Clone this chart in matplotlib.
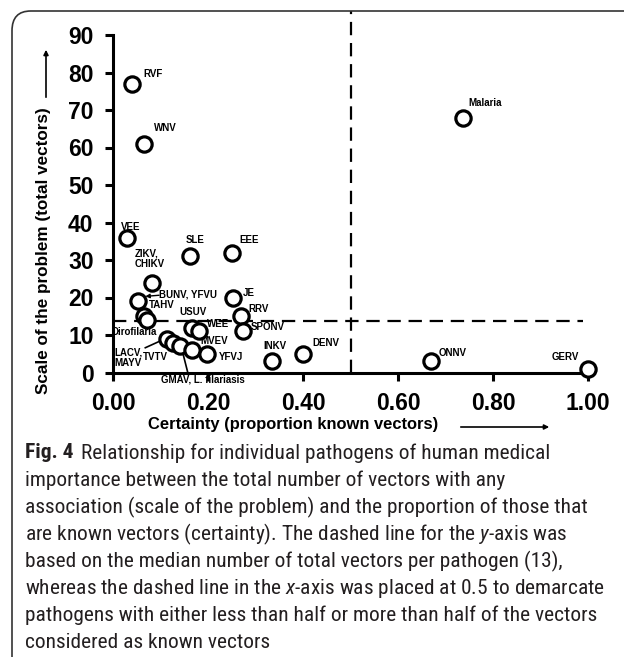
import matplotlib
matplotlib.use("Agg")
import matplotlib.pyplot as plt
from matplotlib import font_manager
from matplotlib.patches import FancyBboxPatch, FancyArrowPatch

# ---------------- data ----------------
names = ["RVF", "WNV", "VEE", "SLE", "EEE", "ZIKV, CHIKV", "BUNV, YFVU", "TAHV a", "TAHV b",
         "Dirofilaria a", "Dirofilaria b", "GMAV", "L. filariasis", "YFVJ", "USUV", "WEE",
         "JE", "RRV", "SPONV", "INKV", "DENV", "ONNV", "GERV", "Malaria"]
certainty = [0.04, 0.065, 0.029, 0.162, 0.25, 0.083, 0.053, 0.065, 0.072,
             0.113, 0.126, 0.141, 0.166, 0.198, 0.166, 0.181,
             0.252, 0.27, 0.273, 0.334, 0.40, 0.669, 1.00, 0.737]
scale = [77, 61, 36, 31, 32, 24, 19, 15, 14,
         9, 8, 7, 6, 5, 12, 11,
         20, 15, 11, 3, 5, 3, 1, 68]

# labels: text, x, y, horizontal alignment
label_text = ["RVF", "WNV", "VEE", "SLE", "EEE", "ZIKV,\nCHIKV", "BUNV, YFVU", "TAHV",
              "Dirofilaria", "LACV,\nMAYV", "TVTV", "MVEV", "YFVJ", "USUV", "WEE", "JE",
              "RRV", "SPONV", "INKV", "DENV", "ONNV", "GERV", "Malaria", "GMAV, L. filariasis"]
label_x = [0.063, 0.086, 0.016, 0.173, 0.267, 0.046, 0.097, 0.076,
           -0.003, 0.003, 0.062, 0.183, 0.222, 0.168, 0.197, 0.274,
           0.285, 0.29, 0.316, 0.42, 0.685, 0.924, 0.749, 0.101]
label_y = [79.5, 65.2, 38.9, 35.3, 35.3, 30.3, 20.7, 18.0,
           10.9, 3.9, 4.1, 8.4, 4.1, 16.1, 12.9, 21.2,
           16.9, 12.1, 7.1, 7.9, 5.2, 4.1, 72.0, -1.8]
label_ha = ["left", "left", "left", "center", "left", "left", "left", "left",
            "left", "left", "left", "left", "left", "center", "left", "left",
            "left", "left", "left", "left", "left", "left", "left", "left"]

y_ticks = [0, 10, 20, 30, 40, 50, 60, 70, 80, 90]
x_ticks = [0.0, 0.2, 0.4, 0.6, 0.8, 1.0]
x_ticklabels = ["0.00", "0.20", "0.40", "0.60", "0.80", "1.00"]
median_line = 13.8
half_line = 0.5

caption_bold = "Fig. 4"
caption_lines = [
    "Relationship for individual pathogens of human medical",
    "importance between the total number of vectors with any",
    "association (scale of the problem) and the proportion of those that",
    "are known vectors (certainty). The dashed line for the $\\mathit{y}$-axis was",
    "based on the median number of total vectors per pathogen (13),",
    "whereas the dashed line in the $\\mathit{x}$-axis was placed at 0.5 to demarcate",
    "pathogens with either less than half or more than half of the vectors",
    "considered as known vectors",
]

# ---------------- fonts ----------------
avail = {f.name for f in font_manager.fontManager.ttflist}
chart_font = "Liberation Sans" if "Liberation Sans" in avail else "DejaVu Sans"
cap_font = "DejaVu Sans"
for cand in ["Liberation Sans Narrow", "Roboto Condensed", "Open Sans Condensed",
             "Noto Sans Condensed", "Roboto", "Open Sans"]:
    if cand in avail:
        cap_font = cand
        break
plt.rcParams["font.family"] = [chart_font, "DejaVu Sans"]
plt.rcParams["mathtext.fontset"] = "custom"
plt.rcParams["mathtext.it"] = cap_font + ":italic"
plt.rcParams["mathtext.rm"] = cap_font

W, H = 624, 657
fig = plt.figure(figsize=(W / 100, H / 100), dpi=100)

def fx(px):
    return px / W

def fy(py):
    return 1 - py / H

# frame (top & left visible)
frame = FancyBboxPatch((fx(12), fy(700)), fx(700), fy(11) - fy(700),
                       boxstyle="round,pad=0,rounding_size=0.03",
                       transform=fig.transFigure, fill=False, edgecolor="#333333",
                       linewidth=1.2, clip_on=False)
fig.patches.append(frame)

# axes: x data 0 at px 113, 1.0 at px 588 ; y 0 at py 372.5, 3.75 px per unit
xmin, xmax = 0.0, 1.02
ymin, ymax = 0.0, 96.5
left = fx(113)
width = (xmax - xmin) * 475 / W
bottom = fy(372.5)
height = (ymax - ymin) * 3.75 / H
ax = fig.add_axes([left, bottom, width, height])
ax.set_xlim(xmin, xmax)
ax.set_ylim(ymin, ymax)

for s in ["top", "right"]:
    ax.spines[s].set_visible(False)
ax.spines["left"].set_bounds(-1.5, 90)
ax.spines["bottom"].set_bounds(0, 1.0)
for s in ["left", "bottom"]:
    ax.spines[s].set_linewidth(2.2)
    ax.spines[s].set_zorder(4)

ax.set_xticks(x_ticks)
ax.set_xticklabels(x_ticklabels)
ax.set_yticks(y_ticks)
ax.tick_params(axis="both", direction="out", length=6, width=2.2, labelsize=16.5, pad=8)
for lab in ax.get_xticklabels() + ax.get_yticklabels():
    lab.set_fontweight("bold")

# dashed lines
ax.plot([0, 0.99], [median_line, median_line], linestyle=(0, (6, 3.5)), color="black",
        linewidth=1.6, zorder=2)
ax.plot([half_line, half_line], [0, 96.5], linestyle=(0, (6, 3.5)), color="black",
        linewidth=1.6, zorder=2, clip_on=False)

# points
ax.plot(certainty, scale, linestyle="none", marker="o", markersize=11,
        markerfacecolor="white", markeredgecolor="black", markeredgewidth=2.3,
        zorder=5, clip_on=False)

for t, x, y, ha in zip(label_text, label_x, label_y, label_ha):
    ax.text(x, y, t, ha=ha, va="center", fontsize=7, fontweight="bold",
            linespacing=1.15, zorder=3, clip_on=False)

# connector lines
ax.annotate("", xy=(0.068, 20.3), xytext=(0.097, 20.6),
            arrowprops=dict(arrowstyle="-|>", color="black", lw=1.0,
                            mutation_scale=6, shrinkA=0, shrinkB=0))
ax.plot([0.068, 0.108], [6.6, 8.9], color="black", lw=1.2, zorder=3)
ax.plot([0.147, 0.158], [5.2, -0.3], color="black", lw=1.2, zorder=3, clip_on=False)

# axis labels
fig.text(fx(44), fy(251), "Scale of the problem (total vectors)", rotation=90,
         ha="center", va="center", fontsize=12.3, fontweight="bold")
fig.add_artist(FancyArrowPatch(
    (fx(46), fy(100)), (fx(46), fy(47)), transform=fig.transFigure,
    arrowstyle="-|>", mutation_scale=7, color="black", lw=1.2))
fig.text(fx(293), fy(424), "Certainty (proportion known vectors)",
         ha="center", va="center", fontsize=11.9, fontweight="bold")
fig.add_artist(FancyArrowPatch(
    (fx(458), fy(427)), (fx(552), fy(427)), transform=fig.transFigure,
    arrowstyle="-|>", mutation_scale=7, color="black", lw=1.2))

# caption: fit font size so the widest line spans ~582 px
renderer = fig.canvas.get_renderer()
cap_fs = 14.0
probe = fig.text(0, 0, caption_lines[5], fontsize=cap_fs, family=[cap_font, "DejaVu Sans"])
w = probe.get_window_extent(renderer).width
probe.remove()
cap_fs = cap_fs * 582.0 / w

y0 = 453
step = 27.1
cap_color = "#231f20"
tb = fig.text(fx(25), fy(y0), caption_bold, ha="left", va="center", fontsize=cap_fs,
              fontweight="bold", family=[cap_font, "DejaVu Sans"], color=cap_color)
bw = tb.get_window_extent(renderer).width
fig.text(fx(25 + bw + 7), fy(y0), caption_lines[0], ha="left", va="center",
         fontsize=cap_fs, family=[cap_font, "DejaVu Sans"], color=cap_color)
for i, line in enumerate(caption_lines[1:], start=1):
    fig.text(fx(25), fy(y0 + i * step), line, ha="left", va="center", fontsize=cap_fs,
             family=[cap_font, "DejaVu Sans"], color=cap_color)

fig.savefig("out.png", dpi=100)
